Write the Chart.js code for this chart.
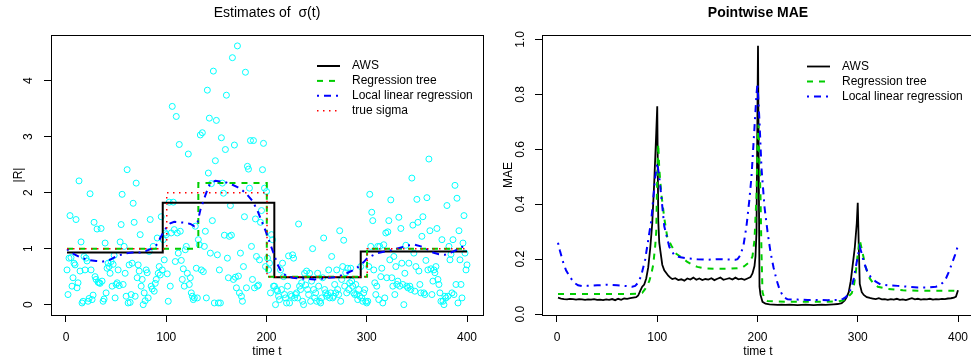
<!DOCTYPE html>
<html>
<head>
<meta charset="utf-8">
<script src="https://cdn.jsdelivr.net/npm/chart.js@4.4.1/dist/chart.umd.min.js"></script>
<style>
  html, body { margin: 0; padding: 0; background: #fff; overflow: hidden; width: 971px; height: 363px; }
  #left { position: absolute; left: 0; top: 0; }
  #right { position: absolute; left: 490px; top: 0; }
</style>
</head>
<body>
<canvas id="left" width="490" height="363" style="width:490px;height:363px"></canvas>
<canvas id="right" width="490" height="363" style="width:490px;height:363px"></canvas>
<script>
// |R_t| for t = 1..100, 101..200, 201..300, 301..400
const absR1 = [
  0.62, 0.18, 0.83, 1.59, 0.84, 0.33, 0.48, 0.74, 0.71, 1.52,
  0.30, 0.39, 2.21, 0.60, 1.12, 0.03, 0.06, 0.86, 0.62, 0.83,
  0.78, 0.06, 0.11, 1.98, 0.62, 0.09, 0.17, 1.47, 0.50, 0.45,
  1.35, 0.40, 0.39, 0.38, 1.36, 0.42, 0.06, 0.10, 1.10, 0.21,
  0.65, 0.74, 0.68, 0.56, 0.77, 0.33, 0.72, 0.88, 0.12, 0.36,
  0.39, 0.62, 0.34, 1.12, 1.43, 1.97, 0.36, 1.04, 0.56, 0.15,
  2.41, 0.03, 0.71, 0.04, 0.18, 0.74, 1.81, 1.47, 0.15, 2.17,
  0.48, 0.71, 0.60, 1.25, 0.33, 0.45, 0.00, 0.21, 0.07, 0.62,
  0.57, 0.12, 0.95, 1.52, 0.33, 0.28, 1.04, 0.24, 0.38, 0.45,
  1.19, 0.56, 0.68, 0.53, 1.57, 0.62, 1.16, 0.80, 1.28, 1.25
];
const absR2 = [
  0.55, 0.06, 1.83, 0.33, 1.28, 3.54, 1.83, 1.34, 0.77, 3.36,
  1.28, 0.92, 2.86, 1.31, 0.79, 0.45, 0.64, 0.33, 0.98, 1.04,
  0.56, 2.69, 0.36, 0.48, 0.21, 0.15, 0.09, 0.12, 1.40, 0.65,
  0.12, 1.16, 1.07, 3.03, 0.62, 3.07, 0.59, 1.04, 1.31, 0.12,
  3.83, 2.35, 3.33, 0.92, 2.16, 1.50, 4.17, 0.03, 2.57, 3.29,
  0.89, 0.03, 0.62, 0.03, 2.98, 2.17, 1.99, 1.24, 2.77, 3.74,
  0.83, 0.48, 1.22, 1.77, 1.24, 4.41, 0.45, 2.85, 0.49, 0.30,
  4.62, 0.51, 0.21, 0.92, 0.15, 0.06, 0.68, 1.57, 4.15, 0.30,
  2.47, 2.42, 2.08, 2.93, 1.04, 0.45, 2.93, 0.30, 1.53, 0.86,
  0.33, 0.35, 0.80, 1.47, 1.68, 2.41, 2.88, 2.08, 0.68, 2.02
];
const absR3 = [
  0.83, 0.62, 0.74, 0.21, 1.25, 1.16, 0.33, 0.33, 0.00, 0.27,
  0.24, 0.15, 0.09, 0.62, 0.27, 0.74, 0.50, 0.18, 0.12, 0.03,
  0.33, 0.87, 0.03, 0.18, 0.15, 0.89, 0.83, 0.12, 0.18, 0.21,
  0.12, 1.44, 0.33, 0.27, 0.39, 0.06, 0.00, 0.56, 0.35, 0.60,
  0.27, 0.18, 0.56, 0.06, 0.42, 1.00, 0.27, 0.12, 0.21, 0.06,
  0.56, 0.33, 0.06, 0.03, 0.12, 0.48, 1.19, 0.27, 0.21, 0.15,
  0.18, 0.62, 0.12, 0.21, 0.86, 0.12, 0.15, 0.36, 0.21, 0.62,
  0.27, 0.18, 1.32, 0.06, 0.45, 0.68, 1.15, 0.33, 0.57, 0.21,
  0.65, 0.27, 0.39, 0.65, 0.42, 0.33, 0.21, 0.18, 0.36, 0.18,
  0.09, 0.27, 0.15, 0.68, 0.12, 0.06, 0.21, 0.27, 0.06, 0.03
];
const absR4 = [
  0.06, 0.68, 1.97, 1.04, 1.65, 1.50, 0.62, 0.39, 0.18, 0.33,
  1.04, 0.09, 1.04, 0.50, 0.65, 0.03, 1.07, 0.12, 1.28, 0.48,
  1.30, 1.50, 0.80, 1.87, 0.48, 0.33, 0.86, 0.18, 0.68, 0.36,
  0.42, 1.56, 0.33, 1.36, 0.74, 0.36, 0.00, 0.56, 1.06, 0.33,
  0.30, 0.74, 0.33, 0.27, 2.26, 1.42, 0.92, 0.24, 0.68, 1.88,
  1.47, 0.60, 0.36, 0.21, 1.22, 1.57, 0.21, 0.18, 0.79, 1.91,
  0.62, 2.60, 1.32, 0.64, 0.18, 0.42, 0.62, 0.57, 0.68, 1.36,
  0.45, 0.36, 0.21, 0.06, 1.16, 0.06, 0.00, 0.15, 0.12, 1.77,
  0.15, 1.04, 0.80, 0.90, 0.21, 1.16, 0.18, 2.13, 0.36, 1.90,
  0.03, 1.32, 0.80, 0.36, 0.12, 1.10, 1.59, 0.92, 0.62, 0.71
];

// piecewise constant estimates: change points and levels
const awsBreaks = [1, 96.5, 207.8, 294, 400];
const awsLevels = [0.93, 1.82, 0.49, 0.95];
const treeBreaks = [1, 132, 200.3, 300.3, 400];
const treeLevels = [1.0, 2.17, 0.5, 1.0];
const sigmaBreaks = [1, 100.5, 200.5, 300.5, 400];
const sigmaLevels = [1, 2, 0.5, 1];

// local linear regression estimate
const llrT = [1,8,15,22,30,37,44,50,58,66,74,80,87,91,94,97,100,104,108,114,120,124,128,131,134,138,141,144,149,154,
  160,166,171,176,180,186,191,195,199,203,207,211,215,220,226,232,240,248,255,262,268,274,280,286,292,297,301,306,311,318,
  324,330,336,342,348,354,360,366,372,378,384,390,395,400];
const llrV = [0.99,0.90,0.84,0.80,0.78,0.77,0.80,0.86,0.91,0.93,0.93,0.96,1.01,1.08,1.19,1.29,1.37,1.45,1.48,1.47,
  1.46,1.44,1.40,1.45,1.69,1.90,2.05,2.17,2.21,2.20,2.18,2.14,2.10,2.04,1.98,1.85,1.68,1.50,1.32,1.12,
  0.92,0.72,0.58,0.51,0.48,0.47,0.46,0.45,0.46,0.48,0.49,0.52,0.56,0.61,0.68,0.76,0.84,0.88,0.92,0.95,
  0.97,1.00,1.03,1.06,1.07,1.04,0.99,0.93,0.90,0.89,0.93,0.98,1.03,1.04];

// pointwise MAE
const maeAwsT = [1,4,7,10,13,16,19,22,25,28,31,34,37,40,43,46,49,52,55,58,61,64,67,70,73,76,79,81,83,85,
  87,89,91,93,95,97,99,100,101,102,103,105,107,109,111,113,115,118,121,124,127,130,133,136,139,142,145,148,151,154,
  157,160,163,166,169,172,175,178,181,184,187,190,193,195,197,198,199,200.5,202,203,205,208,212,216,220,224,228,232,236,240,
  244,248,252,256,260,264,268,272,276,280,284,287,289,291,293,295,297,299,300,301,302,304,306,309,312,315,318,321,324,327,
  330,333,336,339,342,345,348,351,354,357,360,363,366,369,372,375,378,381,384,387,390,393,396,398,400];
const maeAwsV = [0.060,0.057,0.055,0.054,0.056,0.055,0.053,0.055,0.054,0.052,0.054,0.053,0.055,0.052,0.053,0.051,0.054,0.052,0.055,0.051,
  0.056,0.052,0.057,0.056,0.058,0.060,0.062,0.068,0.085,0.100,0.108,0.130,0.170,0.240,0.330,0.480,0.660,0.757,0.340,0.260,
  0.233,0.180,0.160,0.150,0.140,0.133,0.128,0.131,0.124,0.127,0.122,0.130,0.126,0.133,0.125,0.130,0.124,0.128,0.126,0.131,
  0.124,0.129,0.133,0.125,0.128,0.131,0.126,0.133,0.127,0.129,0.125,0.130,0.135,0.148,0.175,0.210,0.300,0.977,0.100,0.070,
  0.045,0.038,0.036,0.035,0.034,0.035,0.034,0.035,0.034,0.033,0.034,0.035,0.034,0.033,0.034,0.035,0.034,0.035,0.036,0.037,
  0.040,0.050,0.062,0.080,0.120,0.180,0.240,0.330,0.405,0.250,0.110,0.080,0.070,0.062,0.059,0.057,0.055,0.058,0.054,0.055,
  0.052,0.055,0.053,0.056,0.052,0.054,0.051,0.055,0.058,0.054,0.056,0.053,0.055,0.054,0.056,0.053,0.055,0.054,0.056,0.055,
  0.057,0.058,0.060,0.064,0.087];
const maeTreeT = [1,20,40,60,80,85,88,90,92,94,96,98,99,100,101,102,104,107,110,114,119,125,130,135,140,145,150,160,170,180,
  185,188,192,195,197,199,200,201,202,203,204,205,207,210,220,240,260,280,285,288,291,294,296,298,300,302,305,308,312,316,
  320,330,345,360,380,400];
const maeTreeV = [0.073,0.073,0.073,0.073,0.074,0.078,0.092,0.105,0.120,0.145,0.180,0.250,0.300,0.500,0.620,0.530,0.440,0.350,0.280,0.250,
  0.220,0.205,0.190,0.180,0.172,0.168,0.166,0.165,0.165,0.167,0.170,0.178,0.190,0.210,0.270,0.430,0.620,0.690,0.550,0.430,
  0.220,0.080,0.055,0.048,0.046,0.045,0.045,0.046,0.050,0.055,0.065,0.076,0.100,0.150,0.220,0.270,0.220,0.170,0.130,0.110,
  0.100,0.092,0.087,0.085,0.085,0.085];
const maeLlrT = [1,3,6,9,13,17,21,25,30,40,50,60,70,75,78,81,84,86,88,91,94,96,98,100,102,104,107,112,117,122,
  130,140,150,160,170,178,180,183,186,189,192,194,197,199,200,202,204,207,210,213,216,219,222,226,230,240,250,260,270,280,
  285,288,291,294,296,298,300,302,304,306,309,313,318,323,330,340,350,360,370,378,382,385,388,391,394,397,400];
const maeLlrV = [0.26,0.23,0.19,0.16,0.135,0.115,0.105,0.102,0.103,0.105,0.107,0.105,0.102,0.100,0.103,0.115,0.14,0.17,0.20,0.27,
  0.34,0.42,0.50,0.55,0.50,0.43,0.32,0.245,0.215,0.208,0.203,0.200,0.198,0.200,0.199,0.198,0.200,0.215,0.25,0.32,
  0.42,0.50,0.68,0.80,0.84,0.70,0.53,0.39,0.30,0.225,0.17,0.125,0.09,0.062,0.054,0.053,0.052,0.052,0.051,0.052,
  0.055,0.062,0.075,0.10,0.13,0.17,0.21,0.245,0.22,0.19,0.16,0.135,0.118,0.108,0.105,0.103,0.100,0.097,0.097,0.100,
  0.106,0.115,0.13,0.155,0.185,0.215,0.25];

const xTicks = [0, 100, 200, 300, 400];
const yTicksLeft = [0, 1, 2, 3, 4];
const yTicksRight = [0, 0.2, 0.4, 0.6, 0.8, 1.0];

const FONT = '"Liberation Sans", Arial, Helvetica, sans-serif';
Chart.defaults.font.family = FONT;
Chart.defaults.color = '#000';

// R's lty 2, 3 and 4
const DASHED = [6, 6];
const DOTTED = [1.5, 4.5];
const DOTDASH = [2, 5, 7, 5];

const pairs = (xs, ys) => xs.map((x, i) => ({ x: x, y: ys[i] }));
const steps = (br, lv) => br.map((x, i) => ({ x: x, y: lv[Math.min(i, lv.length - 1)] }));

// box round the plot region, like R's bty="o"
const frame = {
  id: 'frame',
  afterDraw(chart) {
    const a = chart.chartArea, ctx = chart.ctx;
    ctx.save();
    ctx.strokeStyle = '#000';
    ctx.lineWidth = 1;
    ctx.strokeRect(Math.round(a.left) + 0.5, Math.round(a.top) + 0.5,
      Math.round(a.right - a.left), Math.round(a.bottom - a.top));
    ctx.restore();
  }
};

// R style legend without a box
const lineLegend = {
  id: 'lineLegend',
  afterDraw(chart, args, opts) {
    const a = chart.chartArea, ctx = chart.ctx;
    const x0 = a.right - opts.fromRight;
    ctx.save();
    ctx.font = '12px ' + FONT;
    ctx.textBaseline = 'middle';
    opts.items.forEach((idx, i) => {
      const ds = chart.data.datasets[idx];
      const y = a.top + opts.top + i * opts.step;
      ctx.strokeStyle = ds.borderColor;
      ctx.lineWidth = ds.borderWidth;
      ctx.lineCap = ds.borderCapStyle || 'butt';
      ctx.setLineDash(ds.borderDash || []);
      ctx.beginPath();
      ctx.moveTo(x0 - 35, y);
      ctx.lineTo(x0 - 12, y);
      ctx.stroke();
      ctx.setLineDash([]);
      ctx.fillStyle = '#000';
      ctx.fillText(ds.label, x0, y);
    });
    ctx.restore();
  }
};

function xAxis() {
  return {
    type: 'linear', min: -14.96, max: 415.96,
    afterBuildTicks: s => { s.ticks = xTicks.map(v => ({ value: v })); },
    grid: { drawOnChartArea: false, drawTicks: true, tickLength: 7, color: '#000', lineWidth: 1 },
    border: { display: false },
    ticks: { font: { size: 12 }, color: '#000', padding: 8, maxRotation: 0, autoSkip: false },
    title: { display: true, text: 'time t', font: { size: 12 }, color: '#000', padding: { top: 0, bottom: 4 } },
    afterFit: s => { s.height = 48; }
  };
}

function yAxis(min, max, ticks, label, pad, width, fmt) {
  return {
    type: 'linear', min: min, max: max,
    afterBuildTicks: s => { s.ticks = ticks.map(v => ({ value: v })); },
    grid: { drawOnChartArea: false, drawTicks: true, tickLength: 7, color: '#000', lineWidth: 1 },
    border: { display: false },
    ticks: { font: { size: 12 }, color: '#000', padding: pad, minRotation: 90, maxRotation: 90,
      crossAlign: 'center', autoSkip: false, callback: fmt },
    title: { display: true, text: label, font: { size: 12 }, color: '#000', padding: { top: 11, bottom: 0 } },
    afterFit: s => { s.width = width; }
  };
}

const absR = absR1.concat(absR2, absR3, absR4);
const timeT = absR.map((v, i) => i + 1);

new Chart(document.getElementById('left'), {
  type: 'scatter',
  data: {
    datasets: [
      { label: 'AWS', data: steps(awsBreaks, awsLevels), showLine: true, stepped: true,
        borderColor: '#000', borderWidth: 2, pointRadius: 0, order: 4 },
      { label: 'Regression tree', data: steps(treeBreaks, treeLevels), showLine: true, stepped: true,
        borderColor: '#00CD00', borderWidth: 2, borderDash: DASHED, pointRadius: 0, order: 3 },
      { label: 'Local linear regression', data: pairs(llrT, llrV), showLine: true,
        borderColor: '#0000FF', borderWidth: 2, borderDash: DOTDASH, pointRadius: 0, order: 2 },
      { label: 'true sigma', data: steps(sigmaBreaks, sigmaLevels), showLine: true, stepped: true,
        borderColor: '#FF0000', borderWidth: 1.5, borderDash: DOTTED, pointRadius: 0, order: 1 },
      { label: '|R|', data: pairs(timeT, absR), showLine: false,
        pointRadius: 3, pointBorderWidth: 1, pointBorderColor: '#00FFFF',
        pointBackgroundColor: 'rgba(0,0,0,0)', order: 10 }
    ]
  },
  options: {
    responsive: false, animation: false,
    layout: { padding: { left: 0, right: 7, top: 0, bottom: 0 } },
    scales: {
      x: xAxis(),
      y: yAxis(-0.185, 4.815, yTicksLeft, '|R|', 11.5, 51, v => String(v))
    },
    plugins: {
      legend: { display: false },
      tooltip: { enabled: false },
      title: { display: true, fullSize: false, text: 'Estimates of  \u03C3(t)', color: '#000',
        font: { size: 14, weight: 'normal' }, padding: { top: 5, bottom: 13.2 } },
      lineLegend: { items: [0, 1, 2, 3], fromRight: 131, top: 31, step: 14.9 }
    }
  },
  plugins: [frame, lineLegend]
});

new Chart(document.getElementById('right'), {
  type: 'scatter',
  data: {
    datasets: [
      { label: 'AWS', data: pairs(maeAwsT, maeAwsV), showLine: true,
        borderColor: '#000', borderWidth: 1.8, pointRadius: 0, order: 3 },
      { label: 'Regression tree', data: pairs(maeTreeT, maeTreeV), showLine: true,
        borderColor: '#00CD00', borderWidth: 2, borderDash: DASHED, pointRadius: 0, order: 2 },
      { label: 'Local linear regression', data: pairs(maeLlrT, maeLlrV), showLine: true,
        borderColor: '#0000FF', borderWidth: 2, borderDash: DOTDASH, pointRadius: 0, order: 1 }
    ]
  },
  options: {
    responsive: false, animation: false,
    layout: { padding: { left: 0, right: 6, top: 0, bottom: 0 } },
    scales: {
      x: xAxis(),
      y: yAxis(-0.003, 1.016, yTicksRight, 'MAE', 6, 52, v => v.toFixed(1))
    },
    plugins: {
      legend: { display: false },
      tooltip: { enabled: false },
      title: { display: true, fullSize: false, text: 'Pointwise MAE', color: '#000',
        font: { size: 14, weight: 'bold' }, padding: { top: 5, bottom: 13.2 } },
      lineLegend: { items: [0, 1, 2], fromRight: 132, top: 31.5, step: 15 }
    }
  },
  plugins: [frame, lineLegend]
});
</script>
</body>
</html>
